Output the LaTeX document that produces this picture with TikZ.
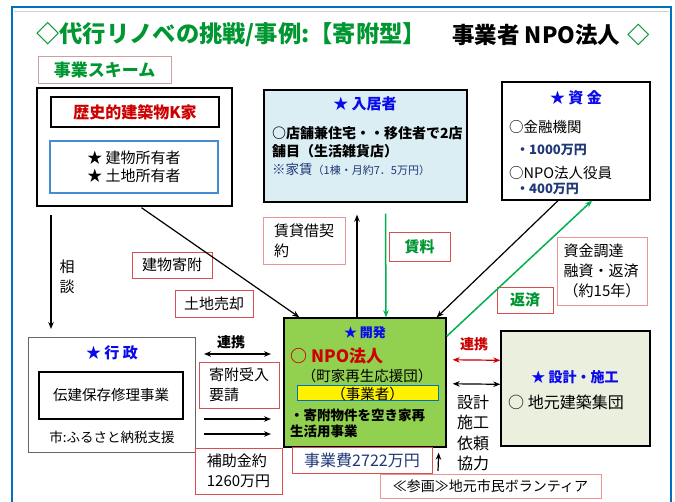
\documentclass[tikz,border=0pt]{standalone}
\usepackage{fontspec}
\setmainfont{Noto Sans CJK JP}
\usetikzlibrary{arrows.meta}
\definecolor{ttlgreen}{RGB}{0,150,50}
\definecolor{frameblue}{RGB}{0,112,192}
\definecolor{devgreen}{RGB}{146,208,80}
\definecolor{tenantblue}{RGB}{218,238,243}
\definecolor{buildfill}{RGB}{235,239,222}
\definecolor{lblred}{RGB}{215,80,80}
\definecolor{lblpink}{RGB}{235,150,150}
\definecolor{skmborder}{RGB}{205,160,160}
\definecolor{txtblue}{RGB}{10,10,235}
\definecolor{navy}{RGB}{31,56,120}
\definecolor{redtxt}{RGB}{204,0,0}
\definecolor{arrgreen}{RGB}{0,176,80}
\definecolor{ownerblue}{RGB}{70,140,210}
\newcommand\myfs[2]{\fontsize{#1}{#2}\selectfont}
\begin{document}
\begin{tikzpicture}[x=1pt,y=-1pt,
  box/.style={draw, line width=1.4pt, inner sep=0pt},
  lbl/.style={draw=lblred, line width=0.8pt, inner sep=0pt},
  lblp/.style={draw=lblpink, line width=0.8pt, inner sep=0pt},
  txt/.style={inner sep=0pt},
  arr/.style={line width=1.2pt, -{Stealth[length=7pt,width=5.5pt]}},
  garr/.style={line width=1.5pt, arrgreen, -{Stealth[length=7pt,width=5.5pt]}},
  darr/.style={line width=1.2pt, {Stealth[length=7pt,width=5.5pt]}-{Stealth[length=7pt,width=5.5pt]}}]
\useasboundingbox (0,0) rectangle (675,502);
\fill[white] (0,0) rectangle (675,502);
\draw[frameblue, line width=1.6pt] (12,7) rectangle (671,520);
\draw[gray!35, line width=0.6pt] (14,11) -- (669,11);

% title
\node[txt, anchor=west, text=ttlgreen, font=\myfs{23.3}{27}\bfseries] (ttl1) at (36,35) {◇代行リノベの挑戦/事例:【寄附型】};
\node[txt, anchor=west, font=\myfs{22.5}{26}\bfseries] (ttl2) at (452,35) {事業者 NPO法人};
\node[txt, anchor=east, text=ttlgreen, font=\myfs{22.5}{26}\bfseries] (ttl3) at (650,35) {◇};

\node[draw=skmborder, line width=1pt, minimum width=133pt, minimum height=27pt, inner sep=0pt, text=ttlgreen, font=\myfs{17}{20}\bfseries] (skm) at (104.5,70.5) {事業スキーム};

% owner
\node[box, minimum width=195pt, minimum height=118pt] (kout) at (134.5,147) {};
\node[box, minimum width=168pt, minimum height=30pt, text=redtxt, font=\myfs{16}{19}\bfseries] (kname) at (135,112) {歴史的建築物K家};
\node[draw=ownerblue, line width=1.2pt, inner sep=0pt, minimum width=168pt, minimum height=52pt, align=center, font=\myfs{15}{18.5}] (kown) at (134,167) {★ 建物所有者\\★ 土地所有者};

% tenant
\node[box, fill=tenantblue, minimum width=203pt, minimum height=112pt] (tenant) at (365.5,146) {};
\node[txt, text=txtblue, font=\myfs{15}{18}\bfseries] (tenantT) at (365,104) {★ 入居者};
\node[txt, anchor=west, align=left, font=\myfs{14}{18}\bfseries] (tenant1) at (272,142) {○店舗兼住宅・・移住者で2店\\舗目（生活雑貨店）};
\node[txt, anchor=west, text=navy, font=\myfs{13.5}{15}] (tenant2) at (272,169) {※家賃{\myfs{11}{13}（1棟・月約7．5万円）}};

% fund
\node[box, minimum width=148pt, minimum height=118pt] (fund) at (576,141) {};
\node[txt, text=txtblue, font=\myfs{15}{18}\bfseries] (fundT) at (576,98) {★ 資 金};
\node[txt, anchor=west, font=\myfs{14.5}{17}] (fund1) at (509,127) {○金融機関};
\node[txt, anchor=west, text=navy, font=\myfs{13}{15}\bfseries] (fund2) at (516,150) {・1000万円};
\node[txt, anchor=west, font=\myfs{14.5}{17}] (fund3) at (509,173) {○NPO法人役員};
\node[txt, anchor=west, text=navy, font=\myfs{13}{15}\bfseries] (fund4) at (516,189) {・400万円};

% development
\node[box, fill=devgreen, minimum width=162pt, minimum height=129pt] (dev) at (365,382.5) {};
\node[txt, text=txtblue, font=\myfs{13}{16}\bfseries] (devT) at (365,333) {★ 開発};
\node[txt, anchor=west, text=redtxt, font=\myfs{17}{20}\bfseries] (devN) at (290,356) {○ NPO法人};
\node[txt, font=\myfs{14.5}{17}] (devS) at (367,376) {（町家再生応援団）};
\node[draw=frameblue, fill=yellow, line width=1pt, minimum width=141pt, minimum height=15pt, inner sep=0pt, font=\myfs{14.5}{15}] (devY) at (367.5,393.5) {（事業者）};
\node[txt, anchor=west, align=left, font=\myfs{13.5}{15.5}\bfseries] (devD) at (290,423.5) {・寄附物件を空き家再\\生活用事業};

% government
\node[draw=gray!80!black, line width=1pt, minimum width=167pt, minimum height=115pt, inner sep=0pt] (gov) at (111.5,395.5) {};
\node[txt, text=txtblue, font=\myfs{15}{18}\bfseries] (govT) at (112,353) {★ 行 政};
\node[box, minimum width=144pt, minimum height=47pt, font=\myfs{14.5}{17}] (govB) at (111,395.5) {伝建保存修理事業};
\node[txt, font=\myfs{13.5}{16}] (govC) at (112,437) {市:ふるさと納税支援};

% builders
\node[box, fill=buildfill, minimum width=149pt, minimum height=115pt] (bld) at (575.5,388.5) {};
\node[txt, text=txtblue, font=\myfs{14}{17}\bfseries] (bldT) at (575,377) {★ 設計・施工};
\node[txt, anchor=west, font=\myfs{16}{19}] (bldC) at (508,402) {○ 地元建築集団};

% labels
\node[txt, align=center, font=\myfs{15}{20}] (lSoudan) at (67,277) {相\\談};
\node[lbl, minimum width=80pt, minimum height=26pt, font=\myfs{15}{18}] (lDon) at (172,265) {建物寄附};
\node[lbl, minimum width=78pt, minimum height=27pt, font=\myfs{15}{18}] (lLand) at (214,303.5) {土地売却};
\node[lblp, minimum width=82pt, minimum height=47pt, align=left, font=\myfs{15}{20}] (lLease) at (304,240.5) {賃貸借契\\約};
\node[lbl, minimum width=61pt, minimum height=29pt, text=ttlgreen, font=\myfs{15}{18}\bfseries] (lRent) at (419.5,246.5) {賃料};
\node[lbl, minimum width=56pt, minimum height=26pt, text=ttlgreen, font=\myfs{15}{18}\bfseries] (lRepay) at (525,300) {返済};
\node[lblp, minimum width=90pt, minimum height=68pt, align=left, font=\myfs{15}{20}] (lFin) at (602,271) {資金調達\\融資・返済\\（約15年）};
\node[txt, font=\myfs{14}{17}\bfseries] (lCoop1) at (231,342) {連携};
\node[lbl, minimum width=80pt, minimum height=46pt, align=left, font=\myfs{15}{20}] (lReq) at (239,385) {寄附受入\\要請};
\node[lbl, minimum width=87pt, minimum height=46pt, align=left, font=\myfs{15}{20}] (lSub) at (238.5,471) {補助金約\\1260万円};
\node[lbl, minimum width=140pt, minimum height=26pt, text=navy, font=\myfs{16}{18}] (lCost) at (362,460) {事業費2722万円};
\node[lblp, minimum width=221pt, minimum height=24pt, font=\myfs{14}{17}] (lVol) at (490.5,486) {≪参画≫地元市民ボランティア};
\node[txt, text=redtxt, font=\myfs{14}{17}\bfseries] (lCoop2) at (474,344) {連携};
\node[txt, align=center, font=\myfs{16}{20.5}] (lDesign) at (473,433) {設計\\施工\\依頼\\協力};

% connectors
\coordinate (sd1) at (51,215);
\coordinate (sd2) at (51,329);
\draw[arr] (sd1) -- (sd2);
\draw[arr] ([xshift=7pt,yshift=-1pt]kout.south) -- ([xshift=16pt]dev.north west);
\draw[arr] ([xshift=-8pt]dev.north) -- ([xshift=-8.5pt,yshift=-12pt]tenant.south);
\draw[garr] ([xshift=20pt,yshift=-11pt]tenant.south) -- ([xshift=21pt]dev.north);
\draw[arr] ([xshift=-18pt]fund.south) -- ([xshift=-10pt]dev.north east);
\draw[garr] ([yshift=-19pt]dev.north east) -- ([xshift=16pt]fund.south);
\coordinate (cl1) at (204,354);
\coordinate (cl2) at (271,354);
\draw[darr] (cl1) -- (cl2);
\coordinate (r1a) at (204,419);
\coordinate (r1b) at (271,419);
\draw[arr] (r1a) -- (r1b);
\coordinate (r2a) at (204,434);
\coordinate (r2b) at (271,434);
\draw[arr] (r2a) -- (r2b);
\draw[darr, redtxt] ([xshift=6pt,yshift=-42.5pt]dev.north east) -- ([yshift=-30pt]bld.north west);
\draw[darr] ([xshift=6pt,yshift=-66.5pt]dev.north east) -- ([yshift=-54pt]bld.north west);
\coordinate (vu1) at (438,471);
\draw[arr] (vu1) -- ([xshift=-8pt,yshift=-5pt]dev.south east);
\end{tikzpicture}
\end{document}
